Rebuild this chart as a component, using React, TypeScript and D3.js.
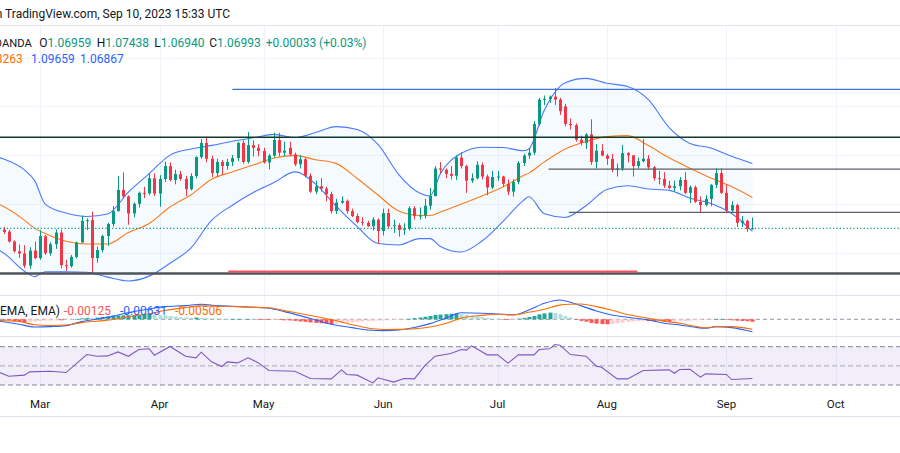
import React from "react";
import * as d3 from "d3";

const W = 900;
const H = 453;

// trading-day category axis (weekdays)
const tradingDays: Date[] = d3.timeDay
  .range(new Date(2023, 1, 20), new Date(2023, 9, 7))
  .filter((d) => d.getDay() !== 0 && d.getDay() !== 6);

const monthLabels = ["Mar", "Apr", "May", "Jun", "Jul", "Aug", "Sep", "Oct"];
const monthNums = [2, 3, 4, 5, 6, 7, 8, 9];

// [open, high, low, close] per daily bar, Feb 20 .. Sep 8 2023
const ohlc: number[][] = [
  [1.0694, 1.0705, 1.0676, 1.0684], [1.0686, 1.0693, 1.064, 1.0645], [1.0645, 1.065, 1.06, 1.0605],
  [1.0605, 1.0633, 1.0578, 1.0596], [1.0596, 1.063, 1.0536, 1.0546], [1.0546, 1.0622, 1.0533, 1.0608],
  [1.0608, 1.0645, 1.0573, 1.0577], [1.0577, 1.0692, 1.057, 1.0667], [1.0667, 1.0672, 1.059, 1.0597],
  [1.0597, 1.0642, 1.0587, 1.0634], [1.0634, 1.0695, 1.0615, 1.0682], [1.0682, 1.0694, 1.0535, 1.0548],
  [1.0548, 1.057, 1.0525, 1.0544], [1.0544, 1.059, 1.0538, 1.0582], [1.0582, 1.0645, 1.0575, 1.0641],
  [1.0641, 1.0752, 1.0641, 1.073], [1.073, 1.074, 1.0692, 1.0733], [1.0733, 1.0768, 1.0516, 1.0577],
  [1.0577, 1.0624, 1.0558, 1.061], [1.061, 1.0672, 1.06, 1.0668], [1.0668, 1.0722, 1.0627, 1.0717],
  [1.0717, 1.0791, 1.0706, 1.077], [1.077, 1.0914, 1.0768, 1.0857], [1.0857, 1.0929, 1.0825, 1.083],
  [1.083, 1.0835, 1.0714, 1.076], [1.076, 1.0805, 1.0745, 1.08], [1.08, 1.085, 1.0785, 1.0845],
  [1.0845, 1.087, 1.0823, 1.0843], [1.0843, 1.0925, 1.0835, 1.0905], [1.0905, 1.0925, 1.0832, 1.0842],
  [1.0842, 1.0918, 1.0788, 1.0902], [1.0902, 1.0973, 1.089, 1.0955], [1.0955, 1.097, 1.0892, 1.0898],
  [1.0898, 1.094, 1.088, 1.0922], [1.0922, 1.0935, 1.0895, 1.0902], [1.0902, 1.0915, 1.0832, 1.086],
  [1.086, 1.0925, 1.0855, 1.0914], [1.0914, 1.0995, 1.0905, 1.0992], [1.0992, 1.1066, 1.0985, 1.105],
  [1.105, 1.1075, 1.097, 1.0985], [1.0985, 1.0998, 1.091, 1.0926], [1.0926, 1.0985, 1.091, 1.0972],
  [1.0972, 1.098, 1.0918, 1.0955], [1.0955, 1.0985, 1.094, 1.0972], [1.0972, 1.1, 1.0955, 1.0988],
  [1.0988, 1.1055, 1.0975, 1.105], [1.105, 1.106, 1.0965, 1.0972], [1.0972, 1.1095, 1.0965, 1.1041],
  [1.1041, 1.106, 1.0994, 1.103], [1.103, 1.1045, 1.0995, 1.1017], [1.1017, 1.103, 1.0965, 1.097],
  [1.097, 1.1005, 1.0942, 1.0998], [1.0998, 1.1092, 1.099, 1.1062], [1.1062, 1.1092, 1.0995, 1.101],
  [1.101, 1.1055, 1.0995, 1.1018], [1.103, 1.1055, 1.0995, 1.1003], [1.1003, 1.101, 1.0955, 1.0962],
  [1.0962, 1.1, 1.0945, 1.0983], [1.0983, 1.099, 1.0908, 1.0915], [1.0915, 1.0925, 1.0845, 1.085],
  [1.085, 1.0895, 1.084, 1.0872], [1.0872, 1.0905, 1.085, 1.0862], [1.0862, 1.087, 1.081, 1.084],
  [1.084, 1.085, 1.076, 1.077], [1.077, 1.082, 1.0758, 1.0805], [1.0805, 1.083, 1.08, 1.0812],
  [1.0812, 1.0818, 1.076, 1.077], [1.077, 1.078, 1.0745, 1.075], [1.075, 1.076, 1.072, 1.0725],
  [1.0725, 1.0745, 1.071, 1.0722], [1.0722, 1.073, 1.0705, 1.0708], [1.0708, 1.0745, 1.069, 1.0735],
  [1.0735, 1.074, 1.0635, 1.0688], [1.0688, 1.078, 1.067, 1.0762], [1.0762, 1.078, 1.07, 1.0708],
  [1.0708, 1.0735, 1.068, 1.0712], [1.0712, 1.072, 1.0665, 1.0693], [1.0693, 1.072, 1.0672, 1.0698],
  [1.0698, 1.079, 1.069, 1.0782], [1.0782, 1.079, 1.0735, 1.075], [1.075, 1.0785, 1.0735, 1.0752],
  [1.0752, 1.082, 1.074, 1.0792], [1.0792, 1.0865, 1.0775, 1.0832], [1.0832, 1.0955, 1.083, 1.0945],
  [1.0945, 1.0972, 1.0925, 1.094], [1.094, 1.0945, 1.0905, 1.0923], [1.0923, 1.0955, 1.09, 1.0915],
  [1.0915, 1.1, 1.0898, 1.099], [1.099, 1.1012, 1.0945, 1.0955], [1.0955, 1.096, 1.0845, 1.0895],
  [1.0895, 1.0925, 1.0885, 1.0905], [1.0905, 1.0975, 1.09, 1.096], [1.096, 1.097, 1.09, 1.0912],
  [1.0912, 1.092, 1.0835, 1.0867], [1.0867, 1.0935, 1.086, 1.091], [1.091, 1.0935, 1.0895, 1.0912],
  [1.0912, 1.0915, 1.087, 1.0882], [1.0882, 1.09, 1.0835, 1.085], [1.085, 1.09, 1.083, 1.089],
  [1.089, 1.0975, 1.088, 1.0968], [1.0968, 1.1005, 1.0955, 1.0998], [1.0998, 1.103, 1.0985, 1.101],
  [1.101, 1.114, 1.1, 1.1128], [1.1128, 1.1235, 1.112, 1.1228], [1.1228, 1.1245, 1.1205, 1.123],
  [1.123, 1.1245, 1.1215, 1.124], [1.124, 1.1276, 1.1205, 1.1228], [1.1228, 1.1235, 1.1165, 1.118],
  [1.12, 1.121, 1.1118, 1.1128], [1.1128, 1.115, 1.1105, 1.1123], [1.1123, 1.113, 1.1055, 1.1063],
  [1.1063, 1.108, 1.104, 1.105], [1.105, 1.109, 1.1025, 1.1085], [1.1085, 1.1147, 1.096, 1.0972],
  [1.0972, 1.1045, 1.0945, 1.1018], [1.1018, 1.1045, 1.0995, 1.0998], [1.0998, 1.1005, 1.096, 1.0985],
  [1.0985, 1.1005, 1.093, 1.094], [1.094, 1.0965, 1.0912, 1.0945], [1.0945, 1.1042, 1.0935, 1.1008],
  [1.1008, 1.1012, 1.097, 1.0999], [1.0999, 1.1, 1.0912, 1.0955], [1.0955, 1.099, 1.0945, 1.0975],
  [1.0975, 1.1065, 1.097, 1.0985], [1.0985, 1.1, 1.094, 1.095], [1.095, 1.0955, 1.0895, 1.0905],
  [1.0905, 1.0935, 1.088, 1.0902], [1.0902, 1.093, 1.0865, 1.0875], [1.0875, 1.0895, 1.086, 1.0865],
  [1.0865, 1.0895, 1.085, 1.0872], [1.0872, 1.091, 1.0855, 1.0898], [1.0898, 1.093, 1.084, 1.0845],
  [1.0845, 1.0875, 1.0803, 1.0868], [1.0868, 1.0875, 1.0803, 1.0808], [1.0808, 1.083, 1.0765, 1.0795],
  [1.0795, 1.0835, 1.079, 1.082], [1.082, 1.088, 1.079, 1.0878], [1.0878, 1.0945, 1.0865, 1.0926],
  [1.0926, 1.0945, 1.084, 1.0845], [1.0845, 1.088, 1.0765, 1.0772], [1.0772, 1.081, 1.0765, 1.0795],
  [1.0795, 1.08, 1.0705, 1.0722], [1.0722, 1.075, 1.0705, 1.073], [1.073, 1.0735, 1.0685, 1.0696],
  [1.06959, 1.07438, 1.0694, 1.06993],
];

// Bollinger Bands read at bar positions
const bbIdx = [-1, 0, 4, 6, 8, 12, 16, 20, 24, 28, 32, 36, 40, 44, 48, 52, 56, 60, 64, 68, 72, 76, 80, 82, 84, 88, 92, 96, 100, 101, 104, 108, 112, 116, 120, 124, 128, 132, 136, 140, 144];
const bbUpper = [1.0992, 1.0984, 1.0939, 1.0894, 1.0799, 1.0762, 1.0748, 1.0758, 1.0848, 1.0924, 1.1, 1.1025, 1.104, 1.1057, 1.1071, 1.1085, 1.1072, 1.1093, 1.1117, 1.1105, 1.1044, 1.092, 1.0844, 1.0832, 1.0924, 1.1007, 1.1032, 1.1031, 1.1018, 1.1025, 1.1185, 1.1297, 1.1315, 1.1295, 1.1282, 1.1228, 1.1113, 1.1048, 1.1029, 1.0995, 1.09659];
const bbBasis = [1.0799, 1.0789, 1.0733, 1.0699, 1.0678, 1.0646, 1.0635, 1.0635, 1.0682, 1.0719, 1.0787, 1.0836, 1.0901, 1.0931, 1.0959, 1.0988, 1.0999, 1.0981, 1.0965, 1.0904, 1.0836, 1.077, 1.0752, 1.0752, 1.0766, 1.0799, 1.0832, 1.0869, 1.0916, 1.0926, 1.0972, 1.1025, 1.1056, 1.1076, 1.108, 1.1039, 1.0989, 1.0946, 1.0906, 1.0871, 1.08263];
const bbLower = [1.061, 1.0598, 1.0523, 1.0501, 1.0521, 1.0521, 1.0519, 1.0499, 1.0483, 1.0503, 1.0556, 1.0618, 1.0732, 1.0794, 1.0846, 1.0887, 1.0931, 1.0881, 1.0789, 1.0706, 1.0637, 1.0631, 1.0657, 1.0657, 1.0625, 1.0602, 1.0647, 1.0727, 1.0814, 1.0829, 1.0759, 1.0744, 1.0792, 1.0859, 1.0874, 1.0861, 1.0855, 1.0823, 1.0801, 1.076, 1.06867];

// horizontal drawings: price, start bar, end bar
const levelPrice = [1.127, 1.1073, 1.0942, 1.0765, 1.0514, 1.0522];
const levelStart = [44, -5, 104.8, 108.7, -5, 43.2];
const levelEnd = [200, 200, 200, 200, 200, 121.9];
const lastClose = 1.06993;
const priceGrid = [1.06, 1.08, 1.1, 1.12, 1.14];

// MACD (12,26,9)
const macdIdx = [-1, 3, 6, 9, 12, 15, 19, 22, 25, 28, 31, 35, 38, 41, 44, 47, 51, 54, 57, 60, 63, 67, 70, 73, 76, 79, 82, 85, 88, 92, 95, 98, 101, 104, 107, 109, 111, 114, 117, 120, 124, 127, 130, 133, 135, 137, 140, 144];
const macdLine = [-8.5, -25.4, -38.9, -37.2, -32.1, -11.8, 5.1, 22, 38.9, 52.5, 64.3, 69.4, 76.1, 69.4, 66, 62.6, 55.8, 38.9, 18.6, -3.4, -25.4, -42.3, -54.1, -57.5, -54.1, -42, -22, 5, 33, 31, 27, 22, 47.4, 81.2, 98.1, 86.3, 69.4, 42.3, 22, 10.2, -3.4, -20.3, -28.8, -40.6, -45.7, -37.2, -42.3, -63.1].map((v) => v * 1e-4);
const signalLine = [-5.5, -11.4, -27.9, -31.2, -29.1, -16.8, -6.9, 3, 16.9, 28, 44.3, 59.4, 68.1, 66.4, 65, 61.6, 58.8, 43.9, 29.6, 14.6, -1.4, -27.3, -44.1, -51.5, -51.1, -48, -39, -21, 6, 20, 26, 23, 35.4, 51.2, 72.1, 76.3, 77.4, 64.3, 46, 24.2, 5.6, -9.3, -19.8, -35.6, -42.7, -38.2, -37.3, -50.6].map((v) => v * 1e-4);
const histogram = [
  -3, -6, -10, -14, -15, -13, -11, -9, -7, -6,
  -5, -5, -3, -1, 2, 5, 7, 6, 9, 12,
  14, 17, 19, 20, 21, 22, 23, 25, 26, 24,
  21, 20, 16, 14, 11, 10, 8, 9, 8, 6,
  4, 3, 2, 1, 1, 2, 0, 1, 0, -1,
  -2, -3, -2, -3, -5, -6, -8, -11, -13, -16,
  -18, -20, -22, -24, -22, -19, -17, -15, -13, -11,
  -10, -8, -7, -6, -5, -4, -3, -2, 2, 6,
  9, 13, 17, 22, 24, 26, 28, 29, 27, 23,
  19, 15, 11, 7, 3, 1, -1, -2, -1, 3,
  7, 12, 17, 25, 30, 34, 32, 26, 17, 10,
  -3, -8, -12, -18, -22, -24, -25, -24, -20, -17,
  -14, -11, -9, -8, -9, -10, -9, -11, -12, -10,
  -9, -8, -6, -5, -4, -3, -2, 1, 2, -3,
  -5, -7, -8, -10, -12.5,
].map((v) => v * 1e-4);

// RSI 14
const rsiIdx = [-1, 1, 4, 5, 9, 12, 16, 18, 20, 22, 24, 26, 28, 29, 32, 35, 37, 38, 40, 42, 43, 45, 47, 49, 51, 56, 59, 63, 65, 66, 68, 71, 72, 75, 77, 79, 81, 83, 86, 88, 89, 90, 93, 95, 97, 99, 102, 103, 105, 106, 107, 109, 112, 114, 115, 118, 120, 123, 128, 129, 130, 132, 134, 135, 139, 140, 144];
const rsiVal = [43.7, 39.2, 40.3, 43.7, 44.4, 43, 61.8, 60.1, 60.4, 64.6, 60, 67, 67.8, 61, 70.2, 60.1, 58.4, 64.3, 54.2, 49.3, 54.2, 53.1, 58.4, 53.1, 45.1, 44.4, 36.8, 36.4, 45.8, 41, 40.3, 32.2, 37.5, 33, 36.8, 36.4, 50.3, 60.1, 62.9, 67, 66.4, 70.9, 61.5, 61.5, 52.8, 61.5, 61.5, 67, 67.8, 72.3, 71.6, 61.8, 60.1, 49.7, 48.6, 36.4, 36.4, 45.1, 45.8, 42.3, 46.2, 46.5, 38.2, 41.6, 41, 35.7, 36.8];
const rsiLevels = [70, 50, 30];

const UP = "#089981";
const DOWN = "#F23645";
const BLUE = "#2962FF";
const ORANGE = "#FF6D00";
const TXT = "#131722";
const FONT = "Roboto, 'Liberation Sans', sans-serif";

export default function App() {
  const x = d3.scaleLinear().domain([0, 144]).range([3.6, 752.4]);
  const yP = d3.scaleLinear().domain([1.06, 1.12]).range([252.5, 106.4]);
  const yM = d3.scaleLinear().domain([0, 0.001]).range([319.3, 317.33]);
  const yR = d3.scaleLinear().domain([30, 70]).range([385, 346.7]);

  const bandPts = bbIdx.map((i, k) => ({ i, u: bbUpper[k], b: bbBasis[k], l: bbLower[k] }));
  const bandArea = d3
    .area<any>()
    .x((d) => x(d.i))
    .y0((d) => yP(d.l))
    .y1((d) => yP(d.u))
    .curve(d3.curveMonotoneX);
  const bandLine = (key: string) =>
    d3
      .line<any>()
      .x((d) => x(d.i))
      .y((d) => yP(d[key]))
      .curve(d3.curveMonotoneX)(bandPts) as string;

  const macdPts = macdIdx.map((i, k) => ({ i, m: macdLine[k], s: signalLine[k] }));
  const mLine = (key: string) =>
    d3
      .line<any>()
      .x((d) => x(d.i))
      .y((d) => yM(d[key]))
      .curve(d3.curveMonotoneX)(macdPts) as string;

  const rsiPath = d3
    .line<number>()
    .x((_, k) => x(rsiIdx[k]))
    .y((v) => yR(v))(rsiVal) as string;

  const monthIdx = monthNums.map((m) => tradingDays.findIndex((d) => d.getMonth() === m));

  const histColor = (k: number) => {
    const v = histogram[k];
    const p = k > 0 ? histogram[k - 1] : v;
    if (v >= 0) return v >= p ? "#26A69A" : "#B2DFDB";
    return v <= p ? "#FF5252" : "#FFCDD2";
  };

  const levelColor = ["#3d74e0", "#0f3a2c", "#5d606b", "#5d606b", "#50535e", "#F7525F"];
  const levelWidth = [1.2, 1.6, 1.3, 1.3, 2.4, 2.2];

  return (
    <svg
      width={W}
      height={H}
      viewBox={`0 0 ${W} ${H}`}
      style={{ position: "absolute", left: 0, top: 0, background: "#fff", fontFamily: FONT }}
    >
      <rect x={0} y={0} width={W} height={H} fill="#fff" />

      {/* header */}
      <text x={230} y={18.3} textAnchor="end" fontSize={12} fill={TXT}>
        on TradingView.com, Sep 10, 2023 15:33 UTC
      </text>
      <line x1={0} x2={W} y1={25.5} y2={25.5} stroke="#e0e3eb" />

      {/* grid */}
      {monthIdx.map((i, k) => (
        <line key={"vg" + k} x1={Math.round(x(i)) + 0.5} x2={Math.round(x(i)) + 0.5} y1={26} y2={390} stroke="#f0f3fa" />
      ))}
      {priceGrid.map((p, k) => (
        <line key={"hg" + k} x1={0} x2={W} y1={Math.round(yP(p)) + 0.5} y2={Math.round(yP(p)) + 0.5} stroke="#f0f3fa" />
      ))}

      {/* Bollinger */}
      <path d={bandArea(bandPts) as string} fill="rgba(33,150,243,0.05)" />
      <path d={bandLine("u")} fill="none" stroke={BLUE} strokeWidth={1.1} opacity={0.85} />
      <path d={bandLine("l")} fill="none" stroke={BLUE} strokeWidth={1.1} opacity={0.85} />
      <path d={bandLine("b")} fill="none" stroke={ORANGE} strokeWidth={1.1} opacity={0.9} />

      {/* candles */}
      {ohlc.map(([o, h, l, c], i) => {
        const cx = Math.round(x(i));
        const up = c >= o;
        const col = up ? UP : DOWN;
        const top = yP(Math.max(o, c));
        const bot = yP(Math.min(o, c));
        return (
          <g key={"c" + i}>
            <line x1={cx + 0.5} x2={cx + 0.5} y1={yP(h)} y2={yP(l)} stroke={col} strokeWidth={1} />
            <rect x={cx - 1} y={top} width={3} height={Math.max(1, bot - top)} fill={col} />
          </g>
        );
      })}

      {/* horizontal drawings */}
      {levelPrice.map((p, k) => (
        <line
          key={"lv" + k}
          x1={x(levelStart[k])}
          x2={x(levelEnd[k])}
          y1={yP(p)}
          y2={yP(p)}
          stroke={levelColor[k]}
          strokeWidth={levelWidth[k]}
        />
      ))}
      <line x1={0} x2={W} y1={yP(lastClose)} y2={yP(lastClose)} stroke={UP} strokeDasharray="1.2 2.2" strokeWidth={1.2} />

      {/* legend */}
      <g fontSize={12}>
        <text x={31.7} y={46.5} textAnchor="end" fontSize={11.2} fill={TXT}>OANDA</text>
        <text x={39.3} y={46.5} fill={TXT}>O<tspan fill={UP}>1.06959</tspan></text>
        <text x={96.7} y={46.5} fill={TXT}>H<tspan fill={UP}>1.07438</tspan></text>
        <text x={154.3} y={46.5} fill={TXT}>L<tspan fill={UP}>1.06940</tspan></text>
        <text x={209.3} y={46.5} fill={TXT}>C<tspan fill={UP}>1.06993</tspan></text>
        <text x={265.7} y={46.5} fill={UP}>+0.00033 (+0.03%)</text>
        <text x={22.7} y={63} textAnchor="end" fill={ORANGE}>1.08263</text>
        <text x={31} y={63} fill={BLUE}>1.09659</text>
        <text x={80} y={63} fill={BLUE}>1.06867</text>
      </g>

      {/* pane separators */}
      <line x1={0} x2={W} y1={295.5} y2={295.5} stroke="#e0e3eb" />
      <line x1={0} x2={W} y1={336.5} y2={336.5} stroke="#e0e3eb" />

      {/* MACD pane */}
      <line x1={0} x2={W} y1={yM(0)} y2={yM(0)} stroke="#9598a1" strokeDasharray="4 3" strokeWidth={1} />
      {histogram.map((v, i) => {
        const y0 = yM(0);
        const y1 = yM(v);
        return (
          <rect
            key={"h" + i}
            x={Math.round(x(i)) - 1.5}
            y={Math.min(y0, y1)}
            width={4}
            height={Math.max(0.6, Math.abs(y1 - y0))}
            fill={histColor(i)}
          />
        );
      })}
      <path d={mLine("m")} fill="none" stroke={BLUE} strokeWidth={1.1} />
      <path d={mLine("s")} fill="none" stroke={ORANGE} strokeWidth={1.1} />
      <g fontSize={12}>
        <text x={0} y={315.3} fill={TXT}>EMA, EMA)</text>
        <text x={64} y={315.3} fill="#FF5252">-0.00125</text>
        <text x={120} y={315.3} fill={BLUE}>-0.00631</text>
        <text x={175} y={315.3} fill={ORANGE}>-0.00506</text>
      </g>

      {/* RSI pane */}
      <rect x={0} y={yR(70)} width={W} height={yR(30) - yR(70)} fill="rgba(126,87,194,0.1)" />
      {rsiLevels.map((v, k) => (
        <line
          key={"rl" + k}
          x1={0}
          x2={W}
          y1={yR(v)}
          y2={yR(v)}
          stroke="#787B86"
          strokeDasharray="5 3"
          strokeWidth={1}
          opacity={k === 1 ? 0.6 : 0.9}
        />
      ))}
      <path d={rsiPath} fill="none" stroke="#7E57C2" strokeWidth={1.1} />

      {/* time axis */}
      {monthIdx.map((i, k) => (
        <text key={"ml" + k} x={x(i)} y={408} textAnchor="middle" fontSize={11.5} fill={TXT}>
          {monthLabels[k]}
        </text>
      ))}
      <line x1={0} x2={W} y1={416.5} y2={416.5} stroke="#e0e3eb" />
    </svg>
  );
}
